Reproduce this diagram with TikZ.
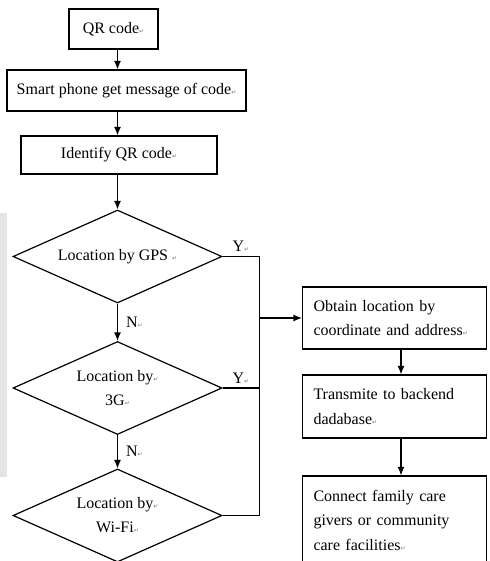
\documentclass[tikz,border=0pt]{standalone}
\usepackage{fontspec}
\setmainfont{Liberation Serif}
\newfontfamily\markfont{DejaVu Sans}
\usetikzlibrary{shapes, arrows, arrows.meta, positioning}
% small paragraph mark as printed after each text
\newcommand{\pmark}{{\markfont\fontsize{6}{6}\selectfont\textcolor{black!55}{↵}}}

\begin{document}
\begin{tikzpicture}[x=1pt, y=1pt, node distance=2cm, auto, line width=1.2pt, >={Latex[length=8.5pt,width=7pt]}]
    % Define block styles
    \tikzstyle{block} = [rectangle, draw, text centered, inner sep=0pt,
        font=\fontsize{16}{24.5}\selectfont]
    \tikzstyle{textblock} = [rectangle, draw, text width=162pt, align=left,
        inner xsep=11pt, inner ysep=0pt, minimum width=184pt, font=\fontsize{16}{24.5}\selectfont]
    \tikzstyle{decision} = [diamond, draw, aspect=2.25, minimum width=209pt,
        minimum height=93pt, inner sep=0pt, align=center, font=\fontsize{16}{24}\selectfont]
    \tikzstyle{yn} = [font=\fontsize{16}{16}\selectfont, inner sep=2pt]
    \tikzstyle{line} = [draw, ->]

    \useasboundingbox (0,0) rectangle (489,-561);
    \fill[gray!20] (0,-213) rectangle (7,-477);

    % Define nodes
    \node [block, minimum width=89pt, minimum height=40pt] (qr) at (113.5,-29) {QR code\pmark};
    \node [block, below of=qr, node distance=61.5pt, xshift=13pt,
        minimum width=239pt, minimum height=41pt] (phone) {Smart phone get message of code\pmark};
    \node [block, below of=phone, node distance=64.5pt, xshift=-7.5pt,
        minimum width=196pt, minimum height=38pt] (ident) {Identify QR code\pmark};
    \node [decision, below of=ident, node distance=101.5pt, xshift=-1.5pt] (dgps) {Location by GPS \pmark};
    \node [decision, below of=dgps, node distance=131.5pt] (d3g) {Location by\pmark\\3G\pmark};
    \node [decision, below of=d3g, node distance=127.5pt] (dwifi) {Location by\pmark\\Wi-Fi\pmark};

    \node [textblock, minimum height=62pt] (obtain) at (394.5,-318) {Obtain location by\\coordinate and address\pmark};
    \node [textblock, below of=obtain, node distance=88.5pt, minimum height=63pt] (trans) {Transmite to backend\\dadabase\pmark};
    \node [textblock, below of=trans, node distance=113.5pt, minimum height=88pt] (connect) {Connect family care\\givers or community\\care facilities\pmark};

    % Draw edges
    \path [line] (qr.south -| dgps.north) -- (phone.north -| dgps.north);
    \path [line] (phone.south -| dgps.north) -- (ident.north -| dgps.north);
    \path [line] (ident.south -| dgps.north) -- (dgps.north);
    \path [line] (dgps) -- node[yn, right, xshift=6pt] (n1) {N\pmark} (d3g);
    \path [line] (d3g) -- node[yn, right, xshift=6pt] (n2) {N\pmark} (dwifi);
    \draw (dgps.east) -- node[yn, above, yshift=2pt] (y1) {Y\pmark} ++(36.5,0) coordinate (ybus) |- (dwifi.east);
    \draw (d3g.east) -- node[yn, above, yshift=2pt] (y2) {Y\pmark} (d3g.east -| ybus);
    \path [line] (ybus |- obtain.west) -- (obtain.west);
    \path [line] ([xshift=6.5pt]obtain.south) -- ([xshift=6.5pt]trans.north);
    \path [line] ([xshift=6.5pt]trans.south) -- ([xshift=6.5pt]connect.north);

\end{tikzpicture}
\end{document}
